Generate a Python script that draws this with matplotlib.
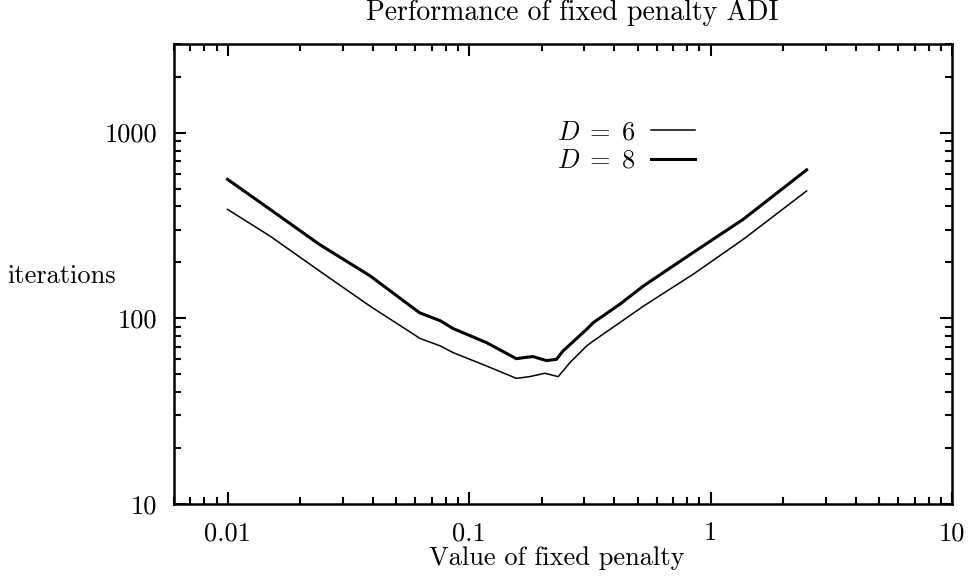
import matplotlib
matplotlib.use("Agg")
from matplotlib import pyplot as plt
from matplotlib.ticker import LogLocator, NullFormatter
from matplotlib.lines import Line2D

# Values (log-log)
penalty_d6 = [0.010, 0.015, 0.024, 0.039, 0.059, 0.0625, 0.076, 0.086, 0.118,
              0.157, 0.178, 0.206, 0.234, 0.262, 0.307, 0.327, 0.421, 0.526,
              0.847, 1.365, 2.5]
iters_d6 = [386, 277, 180, 116, 82, 78, 71, 65.3, 55.4,
            47.5, 48.5, 50.6, 48.5, 57.8, 71, 75.5, 94.8, 116,
            172.6, 266, 485]

penalty_d8 = [0.010, 0.015, 0.024, 0.039, 0.059, 0.0625, 0.076, 0.086, 0.118,
              0.157, 0.170, 0.184, 0.209, 0.230, 0.245, 0.307, 0.327, 0.421,
              0.526, 0.847, 1.365, 2.5]
iters_d8 = [560, 386, 250, 169, 113, 107, 97, 88, 74,
            60.6, 61.5, 62.2, 59.2, 60.1, 66.7, 87.3, 94.8, 119,
            149, 226, 341, 630]

xtick_vals = [0.01, 0.1, 1, 10]
xtick_labels = ["0.01", "0.1", "1", "10"]
ytick_vals = [10, 100, 1000]
ytick_labels = ["10", "100", "1000"]

plt.rcParams["font.family"] = ["cmr10", "DejaVu Serif"]
plt.rcParams["mathtext.fontset"] = "cm"
plt.rcParams["axes.unicode_minus"] = False

W, H = 969, 578
fig = plt.figure(figsize=(W / 100, H / 100), dpi=100)
ax = fig.add_axes([174 / W, (H - 504) / H, 778 / W, 460 / H])

ax.plot(penalty_d6, iters_d6, color="black", lw=1.1)
ax.plot(penalty_d8, iters_d8, color="black", lw=2.2)

ax.set_xscale("log")
ax.set_yscale("log")
ax.set_xlim(0.006, 10)
ax.set_ylim(10, 3000)

ax.set_xticks(xtick_vals, xtick_labels)
ax.set_yticks(ytick_vals, ytick_labels)
ax.xaxis.set_minor_locator(LogLocator(base=10, subs=range(2, 10)))
ax.yaxis.set_minor_locator(LogLocator(base=10, subs=range(2, 10)))
ax.xaxis.set_minor_formatter(NullFormatter())
ax.yaxis.set_minor_formatter(NullFormatter())

for s in ax.spines.values():
    s.set_linewidth(1.8)
ax.tick_params(which="both", direction="in", top=True, right=True, width=1.5,
               labelsize=19)
ax.tick_params(which="major", length=8.5)
ax.tick_params(which="minor", length=4.8)
ax.tick_params(axis="x", which="major", pad=12.5)
ax.tick_params(axis="y", which="major", pad=12)

# Titles and axis labels placed as in the reference
fig.text(572 / W, 1 - 19.5 / H, "Performance of fixed penalty ADI",
         ha="center", va="baseline", fontsize=20)
fig.text(557 / W, 1 - 565 / H, "Value of fixed penalty",
         ha="center", va="baseline", fontsize=19)
fig.text(7 / W, 1 - 283 / H, "iterations", ha="left", va="baseline",
         fontsize=19)

handles = [Line2D([], [], color="black", lw=1.1),
           Line2D([], [], color="black", lw=2.2)]
ax.legend(handles, [r"$D \;=\; 6$", r"$D \;=\; 8$"], markerfirst=False,
          frameon=False, loc="center right",
          bbox_to_anchor=(695 / W, 1 - 146.7 / H),
          bbox_transform=fig.transFigure, borderaxespad=0, borderpad=0,
          handlelength=1.67, handletextpad=0.57, labelspacing=0.19,
          fontsize=19)

fig.savefig("out.png", dpi=100)
